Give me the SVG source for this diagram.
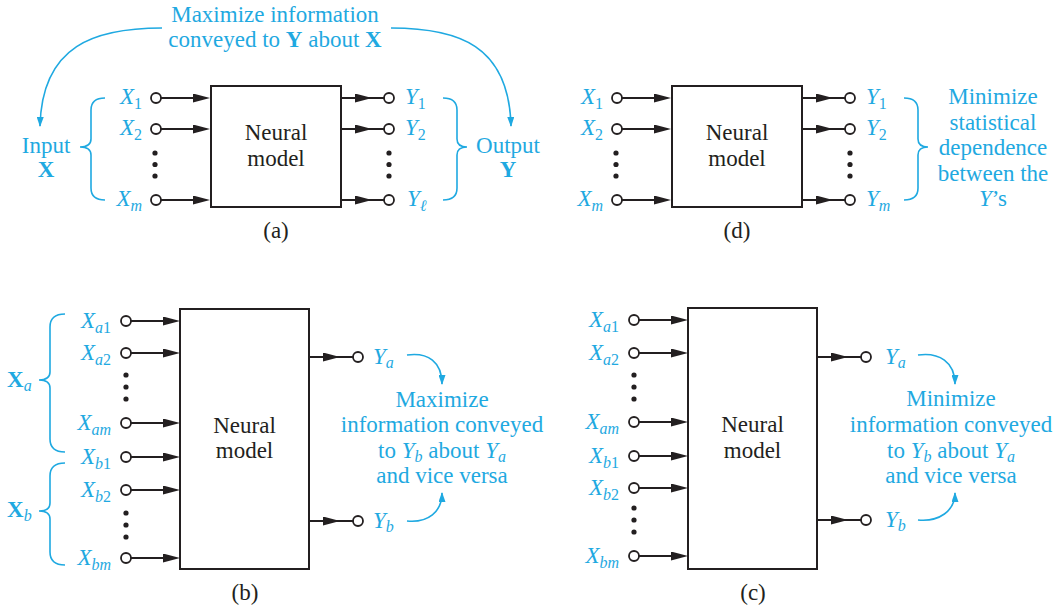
<svg xmlns="http://www.w3.org/2000/svg" width="1064" height="611" viewBox="0 0 1064 611" font-family="'Liberation Serif', serif">
<defs>
<style>
text{font-family:"Liberation Serif","Times New Roman",serif;font-size:23px}
.bl{fill:#1fa9e1}
.k{fill:#231f20}
.i{font-style:italic}
.bd{font-weight:bold}
.s{font-size:16px}
.box{fill:#fff;stroke:#231f20;stroke-width:2}
.w{fill:none;stroke:#231f20;stroke-width:2}
.wa{fill:none;stroke:#231f20;stroke-width:2;marker-end:url(#ah)}
.t{fill:#fff;stroke:#231f20;stroke-width:1.8}
.d{fill:#231f20}
.br{fill:none;stroke:#1fa9e1;stroke-width:1.6}
.cv{fill:none;stroke:#1fa9e1;stroke-width:1.6;marker-end:url(#bh)}
</style>
<marker id="ah" viewBox="0 0 17 9" refX="13" refY="4.5" markerWidth="17" markerHeight="9" markerUnits="userSpaceOnUse" orient="auto"><path d="M0,0L17,4.5L0,9Z" fill="#231f20"/></marker>
<marker id="bh" viewBox="0 0 10 7" refX="9" refY="3.5" markerWidth="10" markerHeight="7" markerUnits="userSpaceOnUse" orient="auto"><path d="M0,0L10,3.5L0,7Z" fill="#1fa9e1"/></marker>
</defs>
<rect width="1064" height="611" fill="#fff"/>

<g id="connectors">
  <!-- panel a -->
  <path class="wa" d="M161,98H206"/><path class="wa" d="M161,129H206"/><path class="wa" d="M161,200H206"/>
  <path class="wa" d="M341,98H368"/><path class="wa" d="M341,129H368"/><path class="wa" d="M341,200H368"/>
  <path class="w" d="M368,98H384M368,129H384M368,200H384"/>
  <path class="cv" d="M162,28C95,28 42,45 40,126"/>
  <path class="cv" d="M391,28C458,28 509,45 511,126"/>
  <!-- panel d -->
  <path class="wa" d="M622,98H667"/><path class="wa" d="M622,129H667"/><path class="wa" d="M622,200H667"/>
  <path class="wa" d="M802,98H829"/><path class="wa" d="M802,129H829"/><path class="wa" d="M802,200H829"/>
  <path class="w" d="M829,98H845M829,129H845M829,200H845"/>
  <!-- panel b -->
  <path class="wa" d="M131,321H176"/><path class="wa" d="M131,353H176"/><path class="wa" d="M131,423H176"/>
  <path class="wa" d="M131,457H176"/><path class="wa" d="M131,490H176"/><path class="wa" d="M131,558H176"/>
  <path class="wa" d="M309,357H336"/><path class="wa" d="M309,521H336"/>
  <path class="w" d="M336,357H353M336,521H353"/>
  <path class="cv" d="M407,355C428,352 442,362 442,384"/>
  <path class="cv" d="M407,521C428,523 442,512 442,493"/>
  <!-- panel c -->
  <path class="wa" d="M639,320H684"/><path class="wa" d="M639,353H684"/><path class="wa" d="M639,422H684"/>
  <path class="wa" d="M639,456H684"/><path class="wa" d="M639,488H684"/><path class="wa" d="M639,556H684"/>
  <path class="wa" d="M817,357H844"/><path class="wa" d="M817,520H844"/>
  <path class="w" d="M844,357H861M844,520H861"/>
  <path class="cv" d="M918,355C939,352 955,362 955,384"/>
  <path class="cv" d="M918,520C939,522 955,511 955,493"/>
</g>

<!-- ===== Panel (a) ===== -->
<g id="a-model">
  <rect class="box" x="211" y="86" width="130" height="121"/>
  <text class="k" x="276" y="140" text-anchor="middle">Neural</text>
  <text class="k" x="276" y="166" text-anchor="middle">model</text>
</g>
<g id="a-inputs">
  <circle class="t" cx="156" cy="98" r="5"/><circle class="t" cx="156" cy="129" r="5"/><circle class="t" cx="156" cy="200" r="5"/>
  <circle class="d" cx="155" cy="153" r="2.6"/><circle class="d" cx="155" cy="164.5" r="2.6"/><circle class="d" cx="155" cy="176" r="2.6"/>
  <text class="bl" x="142" y="104" text-anchor="end"><tspan class="i">X</tspan><tspan class="s" dy="5">1</tspan></text>
  <text class="bl" x="142" y="135" text-anchor="end"><tspan class="i">X</tspan><tspan class="s" dy="5">2</tspan></text>
  <text class="bl" x="142" y="206" text-anchor="end"><tspan class="i">X</tspan><tspan class="s i" dy="5">m</tspan></text>
</g>
<g id="a-outputs">
  <circle class="t" cx="389" cy="98" r="5"/><circle class="t" cx="389" cy="129" r="5"/><circle class="t" cx="389" cy="200" r="5"/>
  <circle class="d" cx="389" cy="153" r="2.6"/><circle class="d" cx="389" cy="164.5" r="2.6"/><circle class="d" cx="389" cy="176" r="2.6"/>
  <text class="bl" x="405" y="104"><tspan class="i">Y</tspan><tspan class="s" dy="5">1</tspan></text>
  <text class="bl" x="405" y="135"><tspan class="i">Y</tspan><tspan class="s" dy="5">2</tspan></text>
  <text class="bl" x="407" y="206"><tspan class="i">Y</tspan><tspan class="s i" dy="5">ℓ</tspan></text>
</g>
<g id="a-input-group">
  <path class="br" d="M105,98Q91,98 91,110L91,139Q91,147 80,147Q91,147 91,155L91,188Q91,200 105,200"/>
  <text class="bl" x="46" y="153" text-anchor="middle">Input</text>
  <text class="bl bd" x="46" y="177" text-anchor="middle">X</text>
</g>
<g id="a-output-group">
  <path class="br" d="M443,98Q457,98 457,110L457,139Q457,147 467,147Q457,147 457,155L457,188Q457,200 443,200"/>
  <text class="bl" x="508" y="153" text-anchor="middle">Output</text>
  <text class="bl bd" x="508" y="177" text-anchor="middle">Y</text>
</g>
<g id="a-goal">
  <text class="bl" x="275" y="22" text-anchor="middle">Maximize information</text>
  <text class="bl" x="275" y="47" text-anchor="middle">conveyed to <tspan class="bd">Y</tspan> about <tspan class="bd">X</tspan></text>
</g>
<text class="k" x="276" y="238" text-anchor="middle">(a)</text>

<!-- ===== Panel (d) ===== -->
<g id="d-model">
  <rect class="box" x="672" y="86" width="130" height="121"/>
  <text class="k" x="737" y="140" text-anchor="middle">Neural</text>
  <text class="k" x="737" y="166" text-anchor="middle">model</text>
</g>
<g id="d-inputs">
  <circle class="t" cx="617" cy="98" r="5"/><circle class="t" cx="617" cy="129" r="5"/><circle class="t" cx="617" cy="200" r="5"/>
  <circle class="d" cx="616" cy="153" r="2.6"/><circle class="d" cx="616" cy="164.5" r="2.6"/><circle class="d" cx="616" cy="176" r="2.6"/>
  <text class="bl" x="603" y="104" text-anchor="end"><tspan class="i">X</tspan><tspan class="s" dy="5">1</tspan></text>
  <text class="bl" x="603" y="135" text-anchor="end"><tspan class="i">X</tspan><tspan class="s" dy="5">2</tspan></text>
  <text class="bl" x="603" y="206" text-anchor="end"><tspan class="i">X</tspan><tspan class="s i" dy="5">m</tspan></text>
</g>
<g id="d-outputs">
  <circle class="t" cx="850" cy="98" r="5"/><circle class="t" cx="850" cy="129" r="5"/><circle class="t" cx="850" cy="200" r="5"/>
  <circle class="d" cx="850" cy="153" r="2.6"/><circle class="d" cx="850" cy="164.5" r="2.6"/><circle class="d" cx="850" cy="176" r="2.6"/>
  <text class="bl" x="866" y="104"><tspan class="i">Y</tspan><tspan class="s" dy="5">1</tspan></text>
  <text class="bl" x="866" y="135"><tspan class="i">Y</tspan><tspan class="s" dy="5">2</tspan></text>
  <text class="bl" x="866" y="206"><tspan class="i">Y</tspan><tspan class="s i" dy="5">m</tspan></text>
</g>
<g id="d-goal">
  <path class="br" d="M904,98Q918,98 918,110L918,139Q918,147 928,147Q918,147 918,155L918,188Q918,200 904,200"/>
  <text class="bl" x="993" y="104" text-anchor="middle">Minimize</text>
  <text class="bl" x="993" y="129.5" text-anchor="middle">statistical</text>
  <text class="bl" x="993" y="155" text-anchor="middle">dependence</text>
  <text class="bl" x="993" y="180.5" text-anchor="middle">between the</text>
  <text class="bl" x="993" y="206" text-anchor="middle"><tspan class="i">Y</tspan>’s</text>
</g>
<text class="k" x="737" y="238" text-anchor="middle">(d)</text>

<!-- ===== Panel (b) ===== -->
<g id="b-model">
  <rect class="box" x="180" y="309" width="129" height="260"/>
  <text class="k" x="244.5" y="433" text-anchor="middle">Neural</text>
  <text class="k" x="244.5" y="458" text-anchor="middle">model</text>
</g>
<g id="b-inputs">
  <circle class="t" cx="126" cy="321" r="5"/><circle class="t" cx="126" cy="353" r="5"/><circle class="t" cx="126" cy="423" r="5"/>
  <circle class="t" cx="126" cy="457" r="5"/><circle class="t" cx="126" cy="490" r="5"/><circle class="t" cx="126" cy="558" r="5"/>
  <circle class="d" cx="126" cy="375" r="2.6"/><circle class="d" cx="126" cy="387" r="2.6"/><circle class="d" cx="126" cy="399" r="2.6"/>
  <circle class="d" cx="126" cy="513" r="2.6"/><circle class="d" cx="126" cy="525" r="2.6"/><circle class="d" cx="126" cy="537" r="2.6"/>
  <text class="bl" x="111" y="328" text-anchor="end"><tspan class="i">X</tspan><tspan class="s i" dy="5">a</tspan><tspan class="s">1</tspan></text>
  <text class="bl" x="111" y="360" text-anchor="end"><tspan class="i">X</tspan><tspan class="s i" dy="5">a</tspan><tspan class="s">2</tspan></text>
  <text class="bl" x="111" y="430" text-anchor="end"><tspan class="i">X</tspan><tspan class="s i" dy="5">am</tspan></text>
  <text class="bl" x="111" y="464" text-anchor="end"><tspan class="i">X</tspan><tspan class="s i" dy="5">b</tspan><tspan class="s">1</tspan></text>
  <text class="bl" x="111" y="497" text-anchor="end"><tspan class="i">X</tspan><tspan class="s i" dy="5">b</tspan><tspan class="s">2</tspan></text>
  <text class="bl" x="111" y="565" text-anchor="end"><tspan class="i">X</tspan><tspan class="s i" dy="5">bm</tspan></text>
</g>
<g id="b-groups">
  <path class="br" d="M65,314Q50,314 50,327L50,372Q50,380 39,380Q50,380 50,388L50,439Q50,452 65,452"/>
  <path class="br" d="M65,463Q50,463 50,476L50,503Q50,511 39,511Q50,511 50,519L50,552Q50,565 65,565"/>
  <text class="bl" x="7" y="387"><tspan class="bd">X</tspan><tspan class="s i" dy="4">a</tspan></text>
  <text class="bl" x="7" y="517"><tspan class="bd">X</tspan><tspan class="s i" dy="4">b</tspan></text>
</g>
<g id="b-outputs">
  <circle class="t" cx="358" cy="357" r="5"/><circle class="t" cx="358" cy="521" r="5"/>
  <text class="bl" x="373" y="364"><tspan class="i">Y</tspan><tspan class="s i" dy="4">a</tspan></text>
  <text class="bl" x="373" y="528"><tspan class="i">Y</tspan><tspan class="s i" dy="4">b</tspan></text>
</g>
<g id="b-goal">
  <text class="bl" x="442" y="407" text-anchor="middle">Maximize</text>
  <text class="bl" x="442" y="432" text-anchor="middle">information conveyed</text>
  <text class="bl" x="442" y="458" text-anchor="middle">to <tspan class="i">Y</tspan><tspan class="s i" dy="4">b</tspan><tspan dy="-4"> about </tspan><tspan class="i">Y</tspan><tspan class="s i" dy="4">a</tspan></text>
  <text class="bl" x="442" y="483" text-anchor="middle">and vice versa</text>
</g>
<text class="k" x="245" y="600" text-anchor="middle">(b)</text>

<!-- ===== Panel (c) ===== -->
<g id="c-model">
  <rect class="box" x="688" y="308" width="129" height="261"/>
  <text class="k" x="752.5" y="432" text-anchor="middle">Neural</text>
  <text class="k" x="752.5" y="458" text-anchor="middle">model</text>
</g>
<g id="c-inputs">
  <circle class="t" cx="634" cy="320" r="5"/><circle class="t" cx="634" cy="353" r="5"/><circle class="t" cx="634" cy="422" r="5"/>
  <circle class="t" cx="634" cy="456" r="5"/><circle class="t" cx="634" cy="488" r="5"/><circle class="t" cx="634" cy="556" r="5"/>
  <circle class="d" cx="634" cy="375" r="2.6"/><circle class="d" cx="634" cy="387" r="2.6"/><circle class="d" cx="634" cy="399" r="2.6"/>
  <circle class="d" cx="634" cy="508" r="2.6"/><circle class="d" cx="634" cy="520" r="2.6"/><circle class="d" cx="634" cy="532" r="2.6"/>
  <text class="bl" x="619" y="327" text-anchor="end"><tspan class="i">X</tspan><tspan class="s i" dy="5">a</tspan><tspan class="s">1</tspan></text>
  <text class="bl" x="619" y="360" text-anchor="end"><tspan class="i">X</tspan><tspan class="s i" dy="5">a</tspan><tspan class="s">2</tspan></text>
  <text class="bl" x="619" y="429" text-anchor="end"><tspan class="i">X</tspan><tspan class="s i" dy="5">am</tspan></text>
  <text class="bl" x="619" y="463" text-anchor="end"><tspan class="i">X</tspan><tspan class="s i" dy="5">b</tspan><tspan class="s">1</tspan></text>
  <text class="bl" x="619" y="495" text-anchor="end"><tspan class="i">X</tspan><tspan class="s i" dy="5">b</tspan><tspan class="s">2</tspan></text>
  <text class="bl" x="619" y="563" text-anchor="end"><tspan class="i">X</tspan><tspan class="s i" dy="5">bm</tspan></text>
</g>
<g id="c-outputs">
  <circle class="t" cx="866" cy="357" r="5"/><circle class="t" cx="866" cy="520" r="5"/>
  <text class="bl" x="885" y="364"><tspan class="i">Y</tspan><tspan class="s i" dy="4">a</tspan></text>
  <text class="bl" x="885" y="527"><tspan class="i">Y</tspan><tspan class="s i" dy="4">b</tspan></text>
</g>
<g id="c-goal">
  <text class="bl" x="951" y="406" text-anchor="middle">Minimize</text>
  <text class="bl" x="951" y="432" text-anchor="middle">information conveyed</text>
  <text class="bl" x="951" y="458" text-anchor="middle">to <tspan class="i">Y</tspan><tspan class="s i" dy="4">b</tspan><tspan dy="-4"> about </tspan><tspan class="i">Y</tspan><tspan class="s i" dy="4">a</tspan></text>
  <text class="bl" x="951" y="483" text-anchor="middle">and vice versa</text>
</g>
<text class="k" x="753" y="600" text-anchor="middle">(c)</text>
</svg>
